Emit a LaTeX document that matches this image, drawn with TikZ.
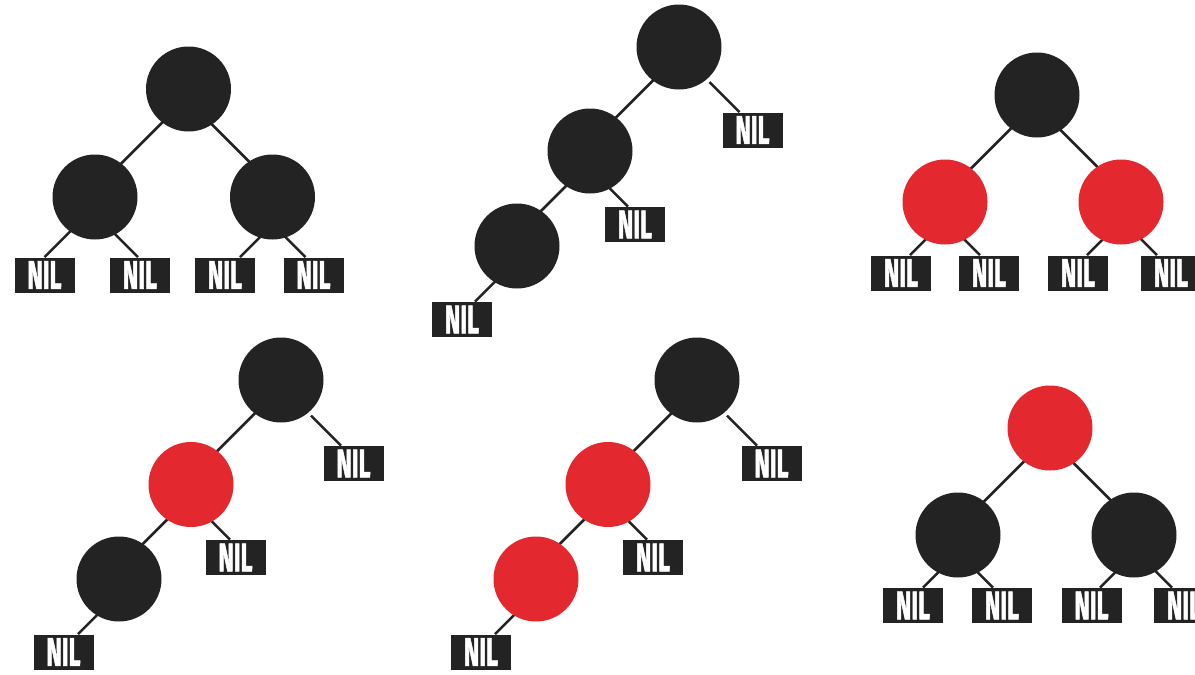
\documentclass[tikz,border=0pt]{standalone}
\usepackage{fontspec}
\usetikzlibrary{backgrounds}
\newfontfamily\nilfont[FakeStretch=0.58,FakeBold=1.2]{Fira Sans}
\definecolor{nodeblack}{HTML}{232323}
\definecolor{nodered}{HTML}{E3282F}
\pgfdeclarelayer{canvas}
\pgfsetlayers{canvas,background,main}
\begin{document}
\begin{tikzpicture}[x=0.5pt,y=-0.5pt,
  bnode/.style={circle,fill=nodeblack,minimum size=42.5pt,inner sep=0pt},
  rnode/.style={circle,fill=nodered,minimum size=42.5pt,inner sep=0pt},
  nilbox/.style={rectangle,fill=nodeblack,minimum width=30pt,minimum height=17.5pt,inner sep=0pt,
    text=white,font=\nilfont\bfseries\fontsize{20pt}{20pt}\selectfont,text height=13.8pt,text depth=-1.6pt},
  edge/.style={draw=nodeblack,line width=1.25pt}]
\useasboundingbox (0,0) rectangle (1195,675);
\begin{pgfonlayer}{canvas}
\fill[white] (0,0) rectangle (1195,675);
\end{pgfonlayer}
% Tree 1
\node[bnode] (t1r) at (188.5,89) {};
\node[bnode] (t1a) at (95,197) {};
\node[bnode] (t1b) at (272.5,197) {};
\node[nilbox] (t1n1) at (44.5,275) {NIL};
\node[nilbox] (t1n2) at (140,275) {NIL};
\node[nilbox] (t1n3) at (225,275) {NIL};
\node[nilbox] (t1n4) at (313.5,275) {NIL};
% Tree 2
\node[bnode] (t2r) at (679,47) {};
\node[nilbox] (t2n1) at (752.5,130) {NIL};
\node[bnode] (t2a) at (590,151) {};
\node[nilbox] (t2n2) at (635,224.5) {NIL};
\node[bnode] (t2b) at (517,246) {};
\node[nilbox] (t2n3) at (462,319.5) {NIL};
% Tree 3
\node[bnode] (t3r) at (1037,95) {};
\node[rnode] (t3a) at (945,202) {};
\node[rnode] (t3b) at (1121,202) {};
\node[nilbox] (t3n1) at (901,273) {NIL};
\node[nilbox] (t3n2) at (989,273) {NIL};
\node[nilbox] (t3n3) at (1078,273) {NIL};
\node[nilbox] (t3n4) at (1171,273) {NIL};
% Tree 4
\node[bnode] (t4r) at (281,380) {};
\node[nilbox] (t4n1) at (353.5,463.5) {NIL};
\node[rnode] (t4a) at (191,484.5) {};
\node[nilbox] (t4n2) at (235.5,557.5) {NIL};
\node[bnode] (t4b) at (119,579) {};
\node[nilbox] (t4n3) at (63.5,652) {NIL};
% Tree 5
\node[bnode] (t5r) at (697,380) {};
\node[nilbox] (t5n1) at (771.5,463.5) {NIL};
\node[rnode] (t5a) at (608,484.5) {};
\node[nilbox] (t5n2) at (653,557.5) {NIL};
\node[rnode] (t5b) at (536,579) {};
\node[nilbox] (t5n3) at (481,652) {NIL};
% Tree 6
\node[rnode] (t6r) at (1050,428) {};
\node[bnode] (t6a) at (958,535) {};
\node[bnode] (t6b) at (1134,535) {};
\node[nilbox] (t6n1) at (913,605.5) {NIL};
\node[nilbox] (t6n2) at (1002,605.5) {NIL};
\node[nilbox] (t6n3) at (1091.5,605.5) {NIL};
\node[nilbox] (t6n4) at (1184,605.5) {NIL};
% midpoints of the circle-to-circle connectors
\path (t1r) -- (t1a) coordinate[pos=0.5] (m1a);
\path (t1r) -- (t1b) coordinate[pos=0.5] (m1b);
\path (t2r) -- (t2a) coordinate[pos=0.5] (m2a);
\path (t2a) -- (t2b) coordinate[pos=0.5] (m2b);
\path (t3r) -- (t3a) coordinate[pos=0.5] (m3a);
\path (t3r) -- (t3b) coordinate[pos=0.5] (m3b);
\path (t4r) -- (t4a) coordinate[pos=0.5] (m4a);
\path (t4a) -- (t4b) coordinate[pos=0.5] (m4b);
\path (t5r) -- (t5a) coordinate[pos=0.5] (m5a);
\path (t5a) -- (t5b) coordinate[pos=0.5] (m5b);
\path (t6r) -- (t6a) coordinate[pos=0.5] (m6a);
\path (t6r) -- (t6b) coordinate[pos=0.5] (m6b);
\begin{pgfonlayer}{background}
% Tree 1
\draw[edge] ([shift={(45,-45)}]m1a) -- ([shift={(-45,45)}]m1a);
\draw[edge] ([shift={(-45,-45)}]m1b) -- ([shift={(45,45)}]m1b);
\draw[edge] (t1n1.north) -- ++(30,-30);
\draw[edge] ([xshift=-1pt]t1n2.north) -- ++(-30,-30);
\draw[edge] ([xshift=7.5pt]t1n3.north) -- ++(30,-30);
\draw[edge] ([xshift=-4pt]t1n4.north) -- ++(-30,-30);
% Tree 2
\draw[edge] ([shift={(45,-45)}]m2a) -- ([shift={(-45,45)}]m2a);
\draw[edge] ([shift={(45,-45)}]m2b) -- ([shift={(-45,45)}]m2b);
\draw[edge] ([xshift=-6.5pt]t2n1.north) -- ++(-30,-30);
\draw[edge] ([xshift=-3.5pt]t2n2.north) -- ++(-30,-30);
\draw[edge] ([xshift=6.5pt]t2n3.north) -- ++(30,-30);
% Tree 3
\draw[edge] ([shift={(45,-45)}]m3a) -- ([shift={(-45,45)}]m3a);
\draw[edge] ([shift={(-45,-45)}]m3b) -- ([shift={(45,45)}]m3b);
\draw[edge] ([xshift=4.5pt]t3n1.north) -- ++(25,-25);
\draw[edge] ([xshift=-4.5pt]t3n2.north) -- ++(-25,-25);
\draw[edge] ([xshift=4.5pt]t3n3.north) -- ++(25,-25);
\draw[edge] ([xshift=-7pt]t3n4.north) -- ++(-25,-25);
% Tree 4
\draw[edge] ([shift={(45,-45)}]m4a) -- ([shift={(-45,45)}]m4a);
\draw[edge] ([shift={(45,-45)}]m4b) -- ([shift={(-45,45)}]m4b);
\draw[edge] ([xshift=-6.25pt]t4n1.north) -- ++(-30,-30);
\draw[edge] ([xshift=-2.75pt]t4n2.north) -- ++(-30,-30);
\draw[edge] ([xshift=7.25pt]t4n3.north) -- ++(30,-30);
% Tree 5
\draw[edge] ([shift={(45,-45)}]m5a) -- ([shift={(-45,45)}]m5a);
\draw[edge] ([shift={(45,-45)}]m5b) -- ([shift={(-45,45)}]m5b);
\draw[edge] ([xshift=-7.25pt]t5n1.north) -- ++(-30,-30);
\draw[edge] ([xshift=-3pt]t5n2.north) -- ++(-30,-30);
\draw[edge] ([xshift=7pt]t5n3.north) -- ++(30,-30);
% Tree 6
\draw[edge] ([shift={(45,-45)}]m6a) -- ([shift={(-45,45)}]m6a);
\draw[edge] ([shift={(-45,-45)}]m6b) -- ([shift={(45,45)}]m6b);
\draw[edge] ([xshift=5pt]t6n1.north) -- ++(25,-25);
\draw[edge] ([xshift=-4.5pt]t6n2.north) -- ++(-25,-25);
\draw[edge] ([xshift=4.25pt]t6n3.north) -- ++(25,-25);
\draw[edge] ([xshift=-6pt]t6n4.north) -- ++(-25,-25);
\end{pgfonlayer}
\end{tikzpicture}
\end{document}
